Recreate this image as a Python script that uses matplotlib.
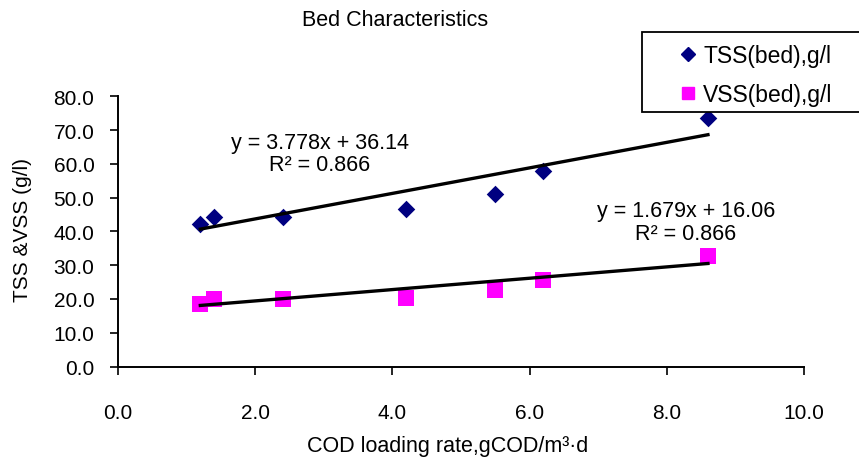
import matplotlib
matplotlib.use("Agg")
import matplotlib.pyplot as plt
from matplotlib.patches import Rectangle
from matplotlib.lines import Line2D
import numpy as np

plt.rcParams['font.family'] = ['Liberation Sans', 'DejaVu Sans']

x_load = [1.2, 1.4, 2.4, 4.2, 5.5, 6.2, 8.6]
tss = [42.2, 44.4, 44.4, 46.6, 51.0, 57.9, 73.7]
vss = [18.5, 20.0, 20.0, 20.3, 22.6, 25.7, 32.8]
tss_fit = (3.778, 36.14)
vss_fit = (1.679, 16.06)
x_ticks = [0, 2, 4, 6, 8, 10]
y_ticks = [0, 10, 20, 30, 40, 50, 60, 70, 80]

fig = plt.figure(figsize=(8.59, 4.64), dpi=100)
ax = fig.add_axes([118/859, 1-367.5/464, (804-118)/859, (367.5-97.3)/464])

ax.scatter(x_load, tss, marker='D', s=80, color='#000080', zorder=3, linewidths=0)
ax.scatter(x_load, vss, marker='s', s=130, color='#FF00FF', zorder=3, linewidths=0)

xl = np.array([min(x_load), max(x_load)])
ax.plot(xl, tss_fit[0]*xl + tss_fit[1], color='black', lw=2.4, zorder=4)
ax.plot(xl, vss_fit[0]*xl + vss_fit[1], color='black', lw=2.4, zorder=4)

fs = 15.5
ax.text(2.94, 66.3, "y = 3.778x + 36.14", ha='center', va='center', fontsize=fs)
ax.text(2.94, 59.9, "R² = 0.866", ha='center', va='center', fontsize=fs)
ax.text(8.28, 46.3, "y = 1.679x + 16.06", ha='center', va='center', fontsize=fs)
ax.text(8.28, 39.5, "R² = 0.866", ha='center', va='center', fontsize=fs)

ax.set_xlim(0, 10)
ax.set_ylim(0, 80)
ax.set_xticks(x_ticks)
ax.set_xticklabels([f"{v:.1f}" for v in x_ticks])
ax.set_yticks(y_ticks)
ax.set_yticklabels([f"{v:.1f}" for v in y_ticks])
for s in ['top', 'right']:
    ax.spines[s].set_visible(False)
for s in ['left', 'bottom']:
    ax.spines[s].set_linewidth(1.4)
ax.tick_params(axis='both', direction='out', length=6, width=1.2, labelsize=15)
ax.tick_params(axis='x', pad=20)
ax.tick_params(axis='y', pad=11)

fig.text(395/859, 1-21/464, "Bed Characteristics", ha='center', va='center', fontsize=15.5)
fig.text(448/859, 1-447/464, "COD loading rate,gCOD/m³·d", ha='center', va='center', fontsize=15.5)
fig.text(23/859, 1-229.5/464, "TSS &VSS (g/l)", ha='center', va='center', fontsize=15, rotation=90)

# legend box
fig.patches.append(Rectangle((642/859, 1-113/464), 220/859, 80/464, transform=fig.transFigure,
                             fill=True, facecolor='white', edgecolor='black', lw=1.3, zorder=10))
handles = [Line2D([], [], marker='D', color='#000080', ls='none', markersize=7.5),
           Line2D([], [], marker='s', color='#FF00FF', ls='none', markersize=8.5)]
leg = fig.legend(handles, ["TSS(bed),g/l", "VSS(bed),g/l"], loc='center left',
                 bbox_to_anchor=(679/859, 1-76/464), frameon=False, fontsize=16.5,
                 handlelength=0.8, handletextpad=0.26, labelspacing=0.74, borderpad=0,
                 borderaxespad=0)
leg.set_zorder(11)

fig.savefig("out.png", dpi=100)
